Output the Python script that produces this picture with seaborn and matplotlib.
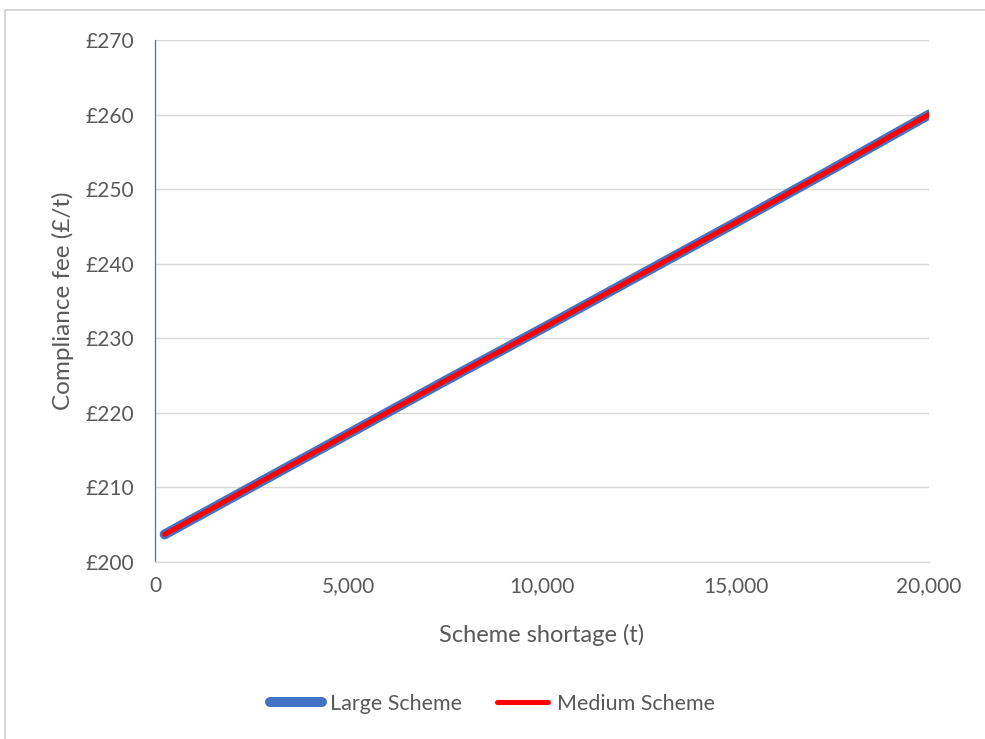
import matplotlib
matplotlib.use("Agg")
import matplotlib.pyplot as plt
from matplotlib.patches import Rectangle
from matplotlib.ticker import FuncFormatter, MultipleLocator
import pandas as pd
import seaborn as sns

# Scheme shortage (t) and resulting compliance fee (£/t)
shortage = [250, 2500, 5000, 7500, 10000, 12500, 15000, 17500, 20000]
large_fee = [203.7, 210.1, 217.2, 224.3, 231.3, 238.4, 245.5, 252.7, 260.0]
medium_fee = [203.7, 210.1, 217.2, 224.3, 231.3, 238.4, 245.5, 252.7, 260.0]
series_names = ["Large Scheme", "Medium Scheme"]

sns.set_theme(style="white")
plt.rcParams["font.family"] = ["Lato", "DejaVu Sans"]

TEXT = "#595959"
GRID = "#d9d9d9"

fig = plt.figure(figsize=(9.85, 7.39), dpi=100)
ax = fig.add_axes([155 / 985, 1 - 562 / 739, (929 - 155) / 985, (562 - 40) / 739])

df_large = pd.DataFrame({"shortage": shortage, "fee": large_fee})
df_medium = pd.DataFrame({"shortage": shortage, "fee": medium_fee})

sns.lineplot(data=df_large, x="shortage", y="fee", ax=ax, color="#4472C4",
             linewidth=7.2, solid_capstyle="round", label=series_names[0])
sns.lineplot(data=df_medium, x="shortage", y="fee", ax=ax, color="#FF0000",
             linewidth=3.6, solid_capstyle="round", label=series_names[1])

ax.set_xlim(0, 20000)
ax.set_ylim(200, 270)
ax.xaxis.set_major_locator(MultipleLocator(5000))
ax.yaxis.set_major_locator(MultipleLocator(10))
ax.xaxis.set_major_formatter(FuncFormatter(lambda v, p: f"{v:,.0f}"))
ax.yaxis.set_major_formatter(FuncFormatter(lambda v, p: f"£{v:.0f}"))

ax.grid(axis="y", color=GRID, linewidth=1.0)
ax.grid(axis="x", visible=False)
ax.set_axisbelow(True)

for side in ("top", "right"):
    ax.spines[side].set_visible(False)
ax.spines["left"].set_color("#4472C4")
ax.spines["left"].set_linewidth(0.9)
ax.spines["bottom"].set_color(GRID)
ax.spines["bottom"].set_linewidth(1.0)

ax.tick_params(axis="both", length=0, labelsize=15, labelcolor=TEXT)
ax.tick_params(axis="x", pad=10)
ax.tick_params(axis="y", pad=15)

ax.set_xlabel("Scheme shortage (t)", fontsize=17, color=TEXT, labelpad=20)
ax.set_ylabel("Compliance fee (£/t)", fontsize=17.5, color=TEXT, labelpad=8)

ax.legend(loc="center", bbox_to_anchor=(0.5, 1 - 704 / 739), bbox_transform=fig.transFigure,
          ncol=2, frameon=False, fontsize=15.5, labelcolor=TEXT, handlelength=2.4,
          handletextpad=0.4, columnspacing=1.6)

# thin chart-area border
fig.patches.append(Rectangle((5 / 985, -0.02), 1.05, 1 - 10 / 739 + 0.02,
                             transform=fig.transFigure, fill=False,
                             edgecolor="#d0d0d0", linewidth=1.2, zorder=0))

fig.savefig("out.png", dpi=100, facecolor="white")
